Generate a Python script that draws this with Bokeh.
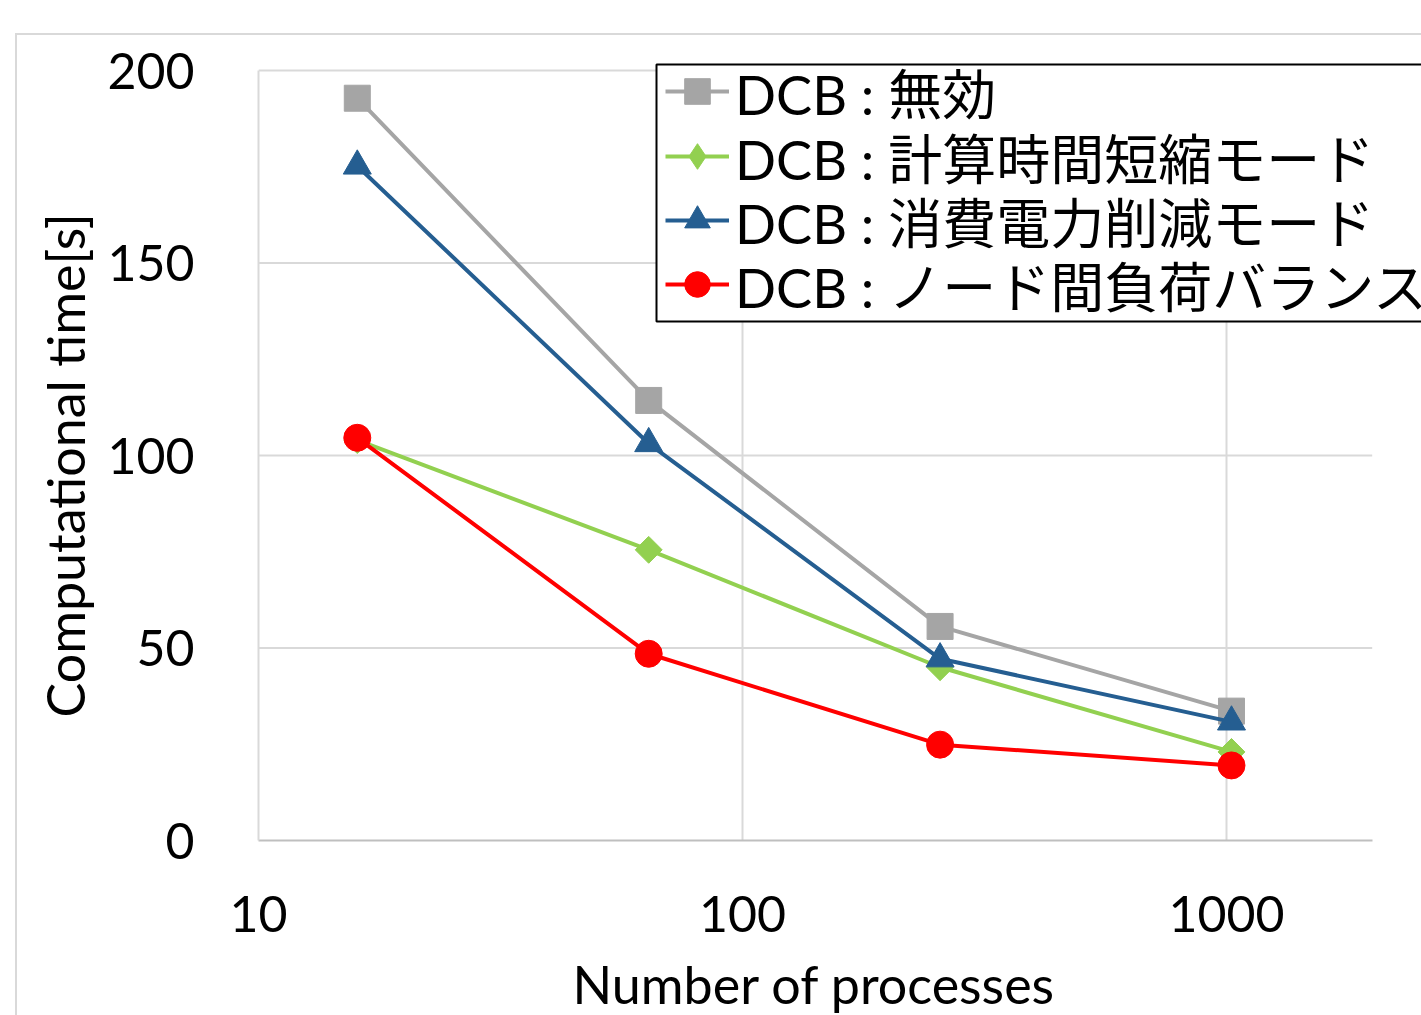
from bokeh.plotting import figure
from bokeh.models import (Range1d, FixedTicker, Legend, LegendItem, BoxAnnotation,
                          ColumnDataSource)
from bokeh.embed import file_html
from bokeh.resources import INLINE
import numpy as np

# Number of processes on the (log) x axis
processes = [16, 64, 256, 1024]

# Computational time [s] for each DCB setting
time_disabled = [192.8, 114.3, 55.6, 33.6]
time_fast = [104.0, 75.5, 45.0, 23.0]
time_power = [175.2, 103.1, 47.2, 30.8]
time_balance = [104.6, 48.5, 24.9, 19.5]

series_names = [
    "DCB : 無効",
    "DCB : 計算時間短縮モード",
    "DCB : 消費電力削減モード",
    "DCB : ノード間負荷バランス",
]

x_ticks = [10, 100, 1000]
x_tick_labels = ["10", "100", "1000"]
y_ticks = [0, 50, 100, 150, 200]
x_lo, x_hi = 10, 2000
y_lo, y_hi = 0, 200

FONT = "Lato, Noto Sans CJK JP"
NBSP = "\u00a0"

# canvas geometry (px)
W, H = 1406, 982
ML, MT, MB = 241, 15, 177
frame_w = W - ML
frame_h = H - MT - MB
px_per_decade = 484
px_per_unit = 3.85

# the frame runs past the last gridline so the legend box can overhang it
x_end = 10 ** (np.log10(x_lo) + frame_w / px_per_decade)
y_end = y_lo + frame_h / px_per_unit

p = figure(
    width=W, height=H,
    x_axis_type="log",
    x_range=Range1d(x_lo, x_end), y_range=Range1d(y_lo, y_end),
    output_backend="svg", toolbar_location=None,
    min_border_left=ML, min_border_right=0,
    min_border_top=MT, min_border_bottom=MB,
    # trailing no-break spaces keep the titles centred on the 10..2000 / 0..200 span
    x_axis_label="Number of processes" + NBSP * 4,
    y_axis_label="Computational time[s]" + NBSP * 3,
)
p.margin = (33, 0, 0, 15)
p.styles = {"border-left": "2px solid #d9d9d9", "border-top": "2px solid #d9d9d9"}
p.outline_line_color = None
p.background_fill_color = "white"
p.border_fill_color = "white"
p.xgrid.visible = False
p.ygrid.visible = False

# gridlines, limited to the axis extent
p.segment(x0=x_lo, x1=x_hi, y0=y_ticks[1:], y1=y_ticks[1:],
          line_color="#d9d9d9", line_width=2, level="underlay")
p.segment(x0=x_ticks[1:], x1=x_ticks[1:], y0=y_lo, y1=y_hi,
          line_color="#d9d9d9", line_width=2, level="underlay")

# axes
p.xaxis.ticker = FixedTicker(ticks=x_ticks)
p.xaxis.major_label_overrides = {t: s for t, s in zip(x_ticks, x_tick_labels)}
p.yaxis.ticker = FixedTicker(ticks=y_ticks)
p.xaxis.bounds = (x_lo, x_hi)
p.yaxis.bounds = (y_lo, y_hi)
for ax in (p.xaxis[0], p.yaxis[0]):
    ax.major_tick_line_color = None
    ax.minor_tick_line_color = None
    ax.major_label_text_font = FONT
    ax.major_label_text_font_size = "50px"
    ax.major_label_text_color = "black"
    ax.axis_label_text_font = FONT
    ax.axis_label_text_font_size = "52px"
    ax.axis_label_text_font_style = "normal"
    ax.axis_label_text_color = "black"
    ax.axis_line_width = 2
p.xaxis.axis_line_color = "#bfbfbf"
p.yaxis.axis_line_color = "#d9d9d9"
p.xaxis.major_label_standoff = 49
p.xaxis.axis_label_standoff = 18
p.yaxis.major_label_standoff = 58
p.yaxis.axis_label_standoff = 8

# series
styles = [
    (time_disabled, "#a5a5a5", dict(marker="square", size=26), None),
    (time_fast, "#92d050", dict(marker="square", size=19, angle=np.pi / 4), "diamond"),
    (time_power, "#255e91", dict(marker="triangle", size=28), None),
    (time_balance, "#ff0000", dict(marker="circle", size=27), None),
]

# legend box (drawn first, so the entries sit on top of it)
p.add_layout(BoxAnnotation(
    left=398, right=1300, top=776, bottom=519,
    left_units="screen", right_units="screen", top_units="screen", bottom_units="screen",
    fill_color="white", fill_alpha=1.0, line_color="black", line_width=2, line_alpha=1.0,
    level="annotation",
))

row_centers = [91, 156, 220, 284]
row_h = 80
frame_bottom = 840
for name, (vals, color, mk, key_marker), yc in zip(series_names, styles, row_centers):
    src = ColumnDataSource(dict(x=processes, y=vals))
    ln = p.line("x", "y", source=src, line_color=color, line_width=4)
    sc = p.scatter("x", "y", source=src, fill_color=color, line_color=color, line_width=1, **mk)
    key = sc
    if key_marker is not None:
        # legend-only key marker: zero size in the plot, sized by the legend itself
        key = p.scatter("x", "y", source=src, marker=key_marker, size=0,
                        fill_color=color, line_color=color, line_width=1)
    leg = Legend(
        items=[LegendItem(label=name, renderers=[ln, key])],
        location=(407, frame_bottom - (yc + row_h // 2)),
        label_text_font=FONT,
        label_text_font_size="54px",
        label_text_color="black",
        glyph_width=64, glyph_height=row_h, label_height=row_h,
        label_standoff=6, spacing=0, padding=0, margin=0,
        border_line_color=None, background_fill_alpha=0.0,
    )
    p.add_layout(leg)

open("out.html", "w").write(file_html(p, INLINE))
